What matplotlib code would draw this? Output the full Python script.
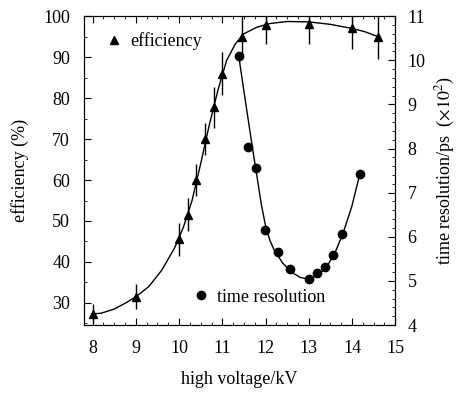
import numpy as np
import matplotlib
matplotlib.use("Agg")
import matplotlib.pyplot as plt
from matplotlib.ticker import AutoMinorLocator, MultipleLocator
from matplotlib.lines import Line2D

plt.rcParams['font.family'] = ['Liberation Serif', 'DejaVu Serif']
plt.rcParams['mathtext.fontset'] = 'stix'

# efficiency measurements
eff_hv = [8.0, 9.0, 10.0, 10.2, 10.4, 10.6, 10.8, 11.0, 11.45, 12.0, 13.0, 14.0, 14.6]
eff_val = [27.3, 31.5, 45.5, 51.5, 60.0, 70.0, 77.8, 86.0, 95.0, 97.8, 98.0, 97.0, 95.0]
eff_err = [2.5, 3.0, 4.0, 4.0, 4.0, 4.0, 5.0, 5.3, 5.0, 4.5, 4.8, 5.0, 5.5]

# fitted efficiency curve
eff_fit_hv = [8.0, 8.2, 8.5, 8.8, 9.0, 9.3, 9.6, 9.9, 10.1, 10.3, 10.5, 10.7, 10.9,
              11.1, 11.3, 11.5, 11.8, 12.1, 12.5, 13.0, 13.5, 14.0, 14.3, 14.6]
eff_fit = [27.3, 27.5, 28.5, 30.2, 31.5, 34.0, 38.0, 43.5, 48.5, 55.0, 64.0, 73.5, 82.0,
           89.2, 93.2, 95.7, 97.3, 98.2, 98.7, 98.6, 98.0, 97.0, 96.2, 95.0]

# time resolution measurements (x100 ps)
tr_hv = [11.38, 11.6, 11.78, 11.98, 12.28, 12.57, 13.0, 13.18, 13.37, 13.57, 13.78, 14.18]
tr_val = [10.1, 8.03, 7.57, 6.16, 5.66, 5.28, 5.04, 5.17, 5.32, 5.58, 6.07, 7.42]

# fitted time resolution curve
tr_fit_hv = [11.38, 11.5, 11.6, 11.7, 11.8, 11.9, 12.0, 12.1, 12.2, 12.4, 12.6, 12.8,
             13.0, 13.2, 13.4, 13.6, 13.8, 14.0, 14.18]
tr_fit = [10.1, 9.3, 8.65, 8.0, 7.38, 6.75, 6.25, 5.92, 5.7, 5.4, 5.2, 5.08,
          5.04, 5.12, 5.3, 5.62, 6.1, 6.7, 7.42]

fig = plt.figure(figsize=(4.59, 3.94), dpi=100)
ax = fig.add_axes([0.183, 0.175, 0.678, 0.784])
ax2 = ax.twinx()

ax.plot(eff_fit_hv, eff_fit, color='black', lw=1.0)
ax.errorbar(eff_hv, eff_val, yerr=eff_err, fmt='^', color='black', ms=6,
            elinewidth=1.0, capsize=0)

ax2.plot(tr_fit_hv, tr_fit, color='black', lw=1.0)
ax2.plot(tr_hv, tr_val, 'o', color='black', ms=6)

ax.set_xlim(7.8, 15.0)
ax.set_ylim(24.6, 100)
ax2.set_ylim(4, 11)

ax.xaxis.set_major_locator(MultipleLocator(1))
ax.xaxis.set_minor_locator(AutoMinorLocator(4))
ax.yaxis.set_major_locator(MultipleLocator(10))
ax.yaxis.set_minor_locator(AutoMinorLocator(2))
ax2.yaxis.set_major_locator(MultipleLocator(1))
ax2.yaxis.set_minor_locator(AutoMinorLocator(5))

ax.tick_params(which='both', direction='in', top=True, labelsize=13)
ax.tick_params(which='major', length=5)
ax.tick_params(which='minor', length=2.5)
ax.tick_params(axis='y', pad=10)
ax.tick_params(axis='x', pad=11)
ax2.tick_params(which='both', direction='in', labelsize=13, pad=9)
ax2.tick_params(which='major', length=5)
ax2.tick_params(which='minor', length=2.5)

ax.set_xlabel('high voltage/kV', fontsize=13, labelpad=10)
ax.set_ylabel('efficiency (%)', fontsize=13, labelpad=10)
ax2.set_ylabel(r'time resolution/ps  ($\times10^2$)', fontsize=13, labelpad=6)

h1 = Line2D([], [], marker='^', ls='none', color='black', ms=6)
ax.legend([h1], ['efficiency'], loc='upper left', frameon=False,
          fontsize=13, handlelength=0.8, handletextpad=0.5,
          bbox_to_anchor=(0.02, 1.0))
h2 = Line2D([], [], marker='o', ls='none', color='black', ms=6)
ax2.legend([h2], ['time resolution'], loc='lower left', frameon=False,
           fontsize=13, handlelength=0.8, handletextpad=0.5,
           bbox_to_anchor=(0.3, 0.01))

fig.savefig('out.png', dpi=100)
